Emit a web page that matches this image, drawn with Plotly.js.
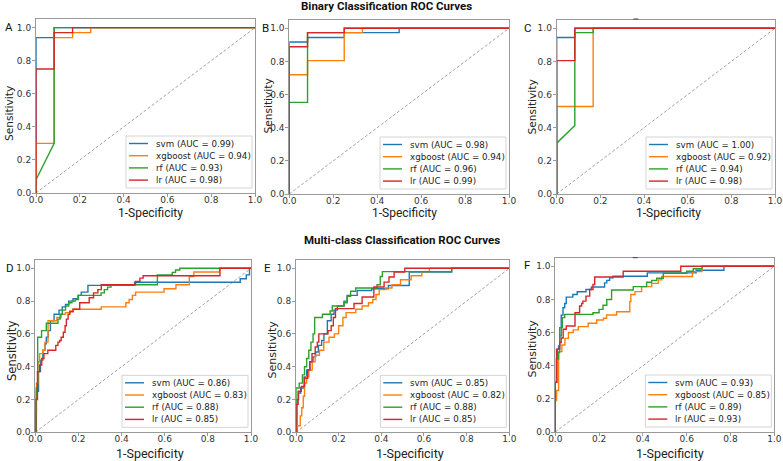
<!DOCTYPE html>
<html><head><meta charset="utf-8">
<script src="https://cdn.plot.ly/plotly-3.0.1.min.js"></script>
<style>html,body{margin:0;padding:0;background:#fff;}#chart{width:783px;height:461px;}</style>
</head><body><div id="chart"></div>
<script>
// ---------------- DATA ----------------
const models = ['svm', 'xgboost', 'rf', 'lr'];
const panelLetters = ['A', 'B', 'C', 'D', 'E', 'F'];
const rowTitles = ['Binary Classification ROC Curves', 'Multi-class Classification ROC Curves'];
const xTitle = '1-Specificity';
const yTitle = 'Sensitivity';
const tickVals = [0, 0.2, 0.4, 0.6, 0.8, 1.0];
const diagX = [0, 1];
const diagY = [0, 1];

const aucA = [0.99, 0.94, 0.93, 0.98];
const aucB = [0.98, 0.94, 0.96, 0.99];
const aucC = [1.00, 0.92, 0.94, 0.98];
const aucD = [0.86, 0.83, 0.88, 0.85];
const aucE = [0.85, 0.82, 0.88, 0.85];
const aucF = [0.93, 0.85, 0.89, 0.93];

// Panel A (binary) - explicit ROC vertices
const fprA_svm = [0, 0, 0.083, 0.083, 1];
const tprA_svm = [0, 0.94, 0.94, 1, 1];
const fprA_xgb = [0, 0, 0.083, 0.083, 0.167, 0.167, 0.25, 0.25, 1];
const tprA_xgb = [0, 0.30, 0.30, 0.94, 0.94, 0.97, 0.97, 1, 1];
const fprA_rf = [0, 0, 0.083, 0.083, 1];
const tprA_rf = [0, 0.08, 0.30, 1, 1];
const fprA_lr = [0, 0, 0.083, 0.083, 0.167, 0.167, 1];
const tprA_lr = [0, 0.75, 0.75, 0.97, 0.97, 1, 1];

// Panel B
const fprB_svm = [0, 0, 0.083, 0.083, 0.25, 0.25, 0.5, 0.5, 1];
const tprB_svm = [0, 0.917, 0.917, 0.944, 0.944, 0.974, 0.974, 1, 1];
const fprB_xgb = [0, 0, 0.083, 0.083, 0.25, 0.25, 0.333, 0.333, 1];
const tprB_xgb = [0, 0.72, 0.72, 0.805, 0.805, 0.974, 0.974, 1, 1];
const fprB_rf = [0, 0, 0.083, 0.083, 0.25, 0.25, 1];
const tprB_rf = [0, 0.553, 0.553, 0.974, 0.974, 1, 1];
const fprB_lr = [0, 0, 0.083, 0.083, 0.25, 0.25, 1];
const tprB_lr = [0, 0.889, 0.889, 0.974, 0.974, 1, 1];

// Panel C
const fprC_svm = [0, 0, 0.083, 0.083, 1];
const tprC_svm = [0, 0.944, 0.944, 1, 1];
const fprC_xgb = [0, 0, 0.167, 0.167, 1];
const tprC_xgb = [0, 0.528, 0.528, 1, 1];
const fprC_rf = [0, 0, 0.083, 0.083, 0.167, 0.167, 1];
const tprC_rf = [0, 0.307, 0.414, 0.974, 0.974, 1, 1];
const fprC_lr = [0, 0, 0.083, 0.083, 1];
const tprC_lr = [0, 0.805, 0.805, 1, 1];

// Panel D (multi-class) - step points (fpr where tpr jumps, tpr after jump)
const fprD_svm = [0, 0.005, 0.015, 0.024, 0.035, 0.045, 0.051, 0.06, 0.07, 0.087, 0.11, 0.125, 0.14, 0.155, 0.175, 0.198, 0.213, 0.244, 0.46, 0.95, 0.978, 0.993, 1.0];
const tprD_svm = [0, 0.25, 0.37, 0.44, 0.50, 0.54, 0.58, 0.62, 0.68, 0.72, 0.745, 0.765, 0.78, 0.80, 0.815, 0.835, 0.855, 0.896, 0.915, 0.936, 0.96, 1.0, 1.0];
const fprD_xgb = [0, 0, 0.005, 0.012, 0.02, 0.035, 0.045, 0.059, 0.10, 0.12, 0.14, 0.16, 0.175, 0.306, 0.42, 0.435, 0.45, 0.465, 0.597, 0.652, 0.714, 0.735, 0.855, 1.0];
const tprD_xgb = [0, 0.12, 0.30, 0.43, 0.48, 0.50, 0.55, 0.68, 0.70, 0.72, 0.73, 0.74, 0.75, 0.765, 0.79, 0.81, 0.835, 0.855, 0.875, 0.90, 0.95, 0.977, 1.0, 1.0];
const fprD_rf = [0, 0.004, 0.011, 0.029, 0.051, 0.105, 0.115, 0.125, 0.14, 0.155, 0.17, 0.185, 0.20, 0.305, 0.32, 0.335, 0.351, 0.566, 0.635, 0.65, 0.67, 1.0];
const tprD_rf = [0, 0.27, 0.58, 0.62, 0.665, 0.69, 0.72, 0.745, 0.77, 0.79, 0.80, 0.81, 0.835, 0.85, 0.87, 0.885, 0.90, 0.96, 0.975, 0.99, 1.0, 1.0];
const fprD_lr = [0, 0.002, 0.01, 0.02, 0.03, 0.04, 0.058, 0.095, 0.105, 0.113, 0.12, 0.13, 0.138, 0.144, 0.152, 0.16, 0.175, 0.206, 0.25, 0.27, 0.29, 0.306, 0.465, 0.485, 0.50, 0.856, 1.0];
const tprD_lr = [0, 0.20, 0.37, 0.41, 0.45, 0.48, 0.50, 0.53, 0.55, 0.56, 0.58, 0.61, 0.65, 0.69, 0.72, 0.735, 0.75, 0.79, 0.82, 0.85, 0.87, 0.90, 0.92, 0.94, 0.955, 1.0, 1.0];

// Panel E
const fprE_svm = [0, 0.005, 0.012, 0.022, 0.038, 0.05, 0.065, 0.08, 0.092, 0.105, 0.12, 0.131, 0.147, 0.165, 0.178, 0.194, 0.225, 0.24, 0.287, 0.355, 0.433, 0.531, 0.73, 1.0];
const tprE_svm = [0, 0.20, 0.24, 0.27, 0.337, 0.38, 0.43, 0.46, 0.49, 0.53, 0.56, 0.60, 0.68, 0.72, 0.745, 0.77, 0.80, 0.835, 0.865, 0.875, 0.895, 0.977, 1.0, 1.0];
const fprE_xgb = [0, 0, 0.02, 0.027, 0.034, 0.04, 0.05, 0.06, 0.076, 0.09, 0.11, 0.13, 0.155, 0.18, 0.20, 0.22, 0.235, 0.28, 0.31, 0.34, 0.36, 0.375, 0.39, 0.42, 0.45, 0.49, 0.54, 0.59, 0.625, 1.0];
const tprE_xgb = [0, 0.04, 0.10, 0.15, 0.22, 0.30, 0.34, 0.38, 0.43, 0.47, 0.50, 0.55, 0.58, 0.60, 0.65, 0.70, 0.73, 0.75, 0.77, 0.79, 0.81, 0.84, 0.87, 0.88, 0.90, 0.93, 0.955, 0.98, 1.0, 1.0];
const fprE_rf = [0, 0, 0.015, 0.03, 0.04, 0.05, 0.06, 0.07, 0.08, 0.0875, 0.124, 0.16, 0.17, 0.225, 0.24, 0.256, 0.28, 0.38, 0.395, 0.405, 0.73, 1.0];
const tprE_rf = [0, 0.27, 0.30, 0.35, 0.40, 0.45, 0.50, 0.55, 0.60, 0.70, 0.72, 0.74, 0.77, 0.79, 0.83, 0.86, 0.88, 0.90, 0.95, 0.98, 1.0, 1.0];
const fprE_lr = [0, 0, 0.01, 0.025, 0.04, 0.055, 0.065, 0.075, 0.09, 0.10, 0.107, 0.15, 0.165, 0.175, 0.185, 0.272, 0.31, 0.365, 0.413, 0.436, 0.46, 0.51, 1.0];
const tprE_lr = [0, 0.17, 0.25, 0.28, 0.33, 0.38, 0.43, 0.48, 0.52, 0.55, 0.60, 0.62, 0.65, 0.70, 0.754, 0.785, 0.825, 0.886, 0.916, 0.947, 0.977, 1.0, 1.0];

// Panel F
const fprF_svm = [0, 0, 0.005, 0.01, 0.015, 0.02, 0.027, 0.035, 0.043, 0.05, 0.08, 0.10, 0.14, 0.165, 0.225, 0.235, 0.248, 0.263, 0.42, 0.643, 0.77, 1.0];
const tprF_svm = [0, 0.30, 0.44, 0.50, 0.52, 0.58, 0.705, 0.75, 0.775, 0.814, 0.83, 0.846, 0.86, 0.875, 0.90, 0.915, 0.93, 0.94, 0.96, 0.976, 1.0, 1.0];
const fprF_xgb = [0, 0, 0.006, 0.015, 0.03, 0.044, 0.06, 0.082, 0.105, 0.15, 0.189, 0.22, 0.234, 0.28, 0.34, 0.345, 0.364, 0.394, 0.44, 0.47, 0.486, 0.626, 0.67, 1.0];
const tprF_xgb = [0, 0.19, 0.25, 0.485, 0.525, 0.565, 0.60, 0.616, 0.636, 0.656, 0.676, 0.686, 0.706, 0.726, 0.787, 0.83, 0.847, 0.877, 0.897, 0.918, 0.938, 0.968, 1.0, 1.0];
const fprF_rf = [0, 0, 0.008, 0.015, 0.02, 0.032, 0.043, 0.172, 0.20, 0.218, 0.235, 0.257, 0.356, 0.417, 0.44, 0.463, 0.493, 0.60, 0.63, 0.67, 1.0];
const tprF_rf = [0, 0.30, 0.44, 0.48, 0.63, 0.69, 0.71, 0.72, 0.74, 0.765, 0.80, 0.857, 0.877, 0.904, 0.915, 0.928, 0.958, 0.97, 0.985, 1.0, 1.0];
const fprF_lr = [0, 0, 0.005, 0.02, 0.027, 0.036, 0.05, 0.09, 0.111, 0.12, 0.126, 0.14, 0.157, 0.172, 0.18, 0.31, 0.573, 1.0];
const tprF_lr = [0, 0.30, 0.50, 0.54, 0.567, 0.62, 0.64, 0.72, 0.76, 0.775, 0.79, 0.82, 0.86, 0.89, 0.935, 0.97, 1.0, 1.0];

// ---------------- ASSEMBLY ----------------
const panels = [
  {auc: aucA, shape: 'linear', curves: [[fprA_svm, tprA_svm], [fprA_xgb, tprA_xgb], [fprA_rf, tprA_rf], [fprA_lr, tprA_lr]]},
  {auc: aucB, shape: 'linear', curves: [[fprB_svm, tprB_svm], [fprB_xgb, tprB_xgb], [fprB_rf, tprB_rf], [fprB_lr, tprB_lr]]},
  {auc: aucC, shape: 'linear', curves: [[fprC_svm, tprC_svm], [fprC_xgb, tprC_xgb], [fprC_rf, tprC_rf], [fprC_lr, tprC_lr]]},
  {auc: aucD, shape: 'hv', curves: [[fprD_svm, tprD_svm], [fprD_xgb, tprD_xgb], [fprD_rf, tprD_rf], [fprD_lr, tprD_lr]]},
  {auc: aucE, shape: 'hv', curves: [[fprE_svm, tprE_svm], [fprE_xgb, tprE_xgb], [fprE_rf, tprE_rf], [fprE_lr, tprE_lr]]},
  {auc: aucF, shape: 'hv', curves: [[fprF_svm, tprF_svm], [fprF_xgb, tprF_xgb], [fprF_rf, tprF_rf], [fprF_lr, tprF_lr]]},
];

// ---------------- STYLE / LAYOUT ----------------
const W = 783, H = 461;
const colors = ['#1f77b4', '#ff7f0e', '#2ca02c', '#d62728'];
const X = px => px / W;
const Y = py => 1 - py / H;
// plot frames in pixels
const boxes = [
  {l: 36, r: 255, t: 19.4, b: 193},
  {l: 289.3, r: 509, t: 20, b: 194},
  {l: 556.7, r: 775, t: 20, b: 194},
  {l: 35.3, r: 251, t: 260.1, b: 432.3},
  {l: 296, r: 509.3, t: 260.1, b: 432.3},
  {l: 555.3, r: 774.3, t: 258, b: 432},
];
const letterPos = [[8.7, 27], [265.3, 27.5], [527.7, 27.5], [9.7, 267.5], [267.5, 267.5], [527.2, 265]];
const xTitlePos = [[150, 212.5], [404, 212.5], [668, 212.5], [150, 453.5], [410, 453.5], [669.7, 453.5]];
const xTitleSize = [12, 12, 12, 12.5, 12.5, 12.5];
const yTitlePos = [[9, 114], [267, 106.5], [532, 107.5], [12, 351], [272, 349.5], [532, 348.5]];
const yTitleSize = [10.6, 10.6, 10.6, 11.6, 11, 11];
const titlePos = [[386.5, 6.5], [401.5, 240]];

const frameColor = '#9a9a9a';
const traces = [];
const layout = {
  width: W, height: H,
  margin: {l: 0, r: 0, t: 0, b: 0},
  paper_bgcolor: '#fff', plot_bgcolor: '#fff',
  showlegend: false,
  shapes: [], annotations: [],
  font: {family: 'DejaVu Sans', color: '#222'}
};

panels.forEach((p, i) => {
  const b = boxes[i];
  const sfx = i === 0 ? '' : String(i + 1);
  const axCommon = {
    showline: true, mirror: true, linecolor: frameColor, linewidth: 1,
    ticks: 'outside', ticklen: 3, tickwidth: 1, tickcolor: frameColor,
    tickvals: tickVals, tickformat: '.1f',
    tickfont: {family: 'DejaVu Sans', size: 9, color: '#333'},
    showgrid: false, zeroline: false, fixedrange: true, automargin: false
  };
  layout['xaxis' + sfx] = Object.assign({}, axCommon, {
    domain: [X(b.l), X(b.r)], range: [0, 1], anchor: 'y' + sfx, ticklabelstandoff: -5
  });
  layout['yaxis' + sfx] = Object.assign({}, axCommon, {
    domain: [Y(b.b), Y(b.t)], range: [0, 1.05], anchor: 'x' + sfx, ticklabelstandoff: -1
  });

  // diagonal reference
  traces.push({
    x: diagX, y: diagY, xaxis: 'x' + sfx, yaxis: 'y' + sfx, mode: 'lines',
    line: {color: '#8a8a8a', width: 0.8, dash: '3px,2px'}, hoverinfo: 'skip', showlegend: false
  });
  p.curves.forEach((c, m) => {
    traces.push({
      x: c[0], y: c[1], xaxis: 'x' + sfx, yaxis: 'y' + sfx, mode: 'lines',
      name: models[m] + ' (AUC = ' + p.auc[m].toFixed(2) + ')',
      line: {color: colors[m], width: 1.4, shape: p.shape}, showlegend: false
    });
  });

  // legend box drawn in the lower right of each panel
  const lw = 126, lh = 52;
  const lr = b.r - 3, lb = b.b - 5, ll = lr - lw, lt = lb - lh;
  layout.shapes.push({type: 'rect', xref: 'paper', yref: 'paper', x0: X(ll), x1: X(lr), y0: Y(lb), y1: Y(lt),
    fillcolor: 'rgba(255,255,255,0.9)', line: {color: '#d4d4d4', width: 1}, layer: 'above'});
  models.forEach((mname, m) => {
    const cy = lt + 7.5 + m * 12.2;
    layout.shapes.push({type: 'line', xref: 'paper', yref: 'paper', x0: X(ll + 3), x1: X(ll + 22), y0: Y(cy), y1: Y(cy),
      line: {color: colors[m], width: 1.4}, layer: 'above'});
    layout.annotations.push({xref: 'paper', yref: 'paper', x: X(ll + 27.5), y: Y(cy), xanchor: 'left', yanchor: 'middle',
      text: mname + ' (AUC = ' + p.auc[m].toFixed(2) + ')', showarrow: false,
      font: {family: 'DejaVu Sans', size: 8.7, color: '#222'}});
  });

  // panel letter
  layout.annotations.push({xref: 'paper', yref: 'paper', x: X(letterPos[i][0]), y: Y(letterPos[i][1]),
    xanchor: 'center', yanchor: 'middle', text: panelLetters[i], showarrow: false,
    font: {family: 'Roboto', size: 11.5, color: '#111'}});
  // axis titles
  layout.annotations.push({xref: 'paper', yref: 'paper', x: X(xTitlePos[i][0]), y: Y(xTitlePos[i][1]),
    xanchor: 'center', yanchor: 'middle', text: xTitle, showarrow: false, borderpad: 0,
    font: {family: 'Roboto', size: xTitleSize[i], color: '#222'}});
  layout.annotations.push({xref: 'paper', yref: 'paper', x: X(yTitlePos[i][0]), y: Y(yTitlePos[i][1]),
    xanchor: 'center', yanchor: 'middle', text: yTitle, textangle: -90, showarrow: false,
    font: {family: 'DejaVu Sans', size: yTitleSize[i], color: '#222'}});
});

rowTitles.forEach((t, r) => {
  layout.annotations.push({xref: 'paper', yref: 'paper', x: X(titlePos[r][0]), y: Y(titlePos[r][1]),
    xanchor: 'center', yanchor: 'middle', text: '<b>' + t + '</b>', showarrow: false,
    font: {family: 'Roboto', size: 11.5, color: '#111'}});
});

// small stray marks above panels C and F in the original figure
[[633.3, 638.3, 19], [632.7, 637.7, 257.7]].forEach(s => {
  layout.shapes.push({type: 'line', xref: 'paper', yref: 'paper', x0: X(s[0]), x1: X(s[1]), y0: Y(s[2]), y1: Y(s[2]),
    line: {color: '#444', width: 1}});
});

Plotly.newPlot('chart', traces, layout, {staticPlot: true, displayModeBar: false});
</script>
</body></html>
